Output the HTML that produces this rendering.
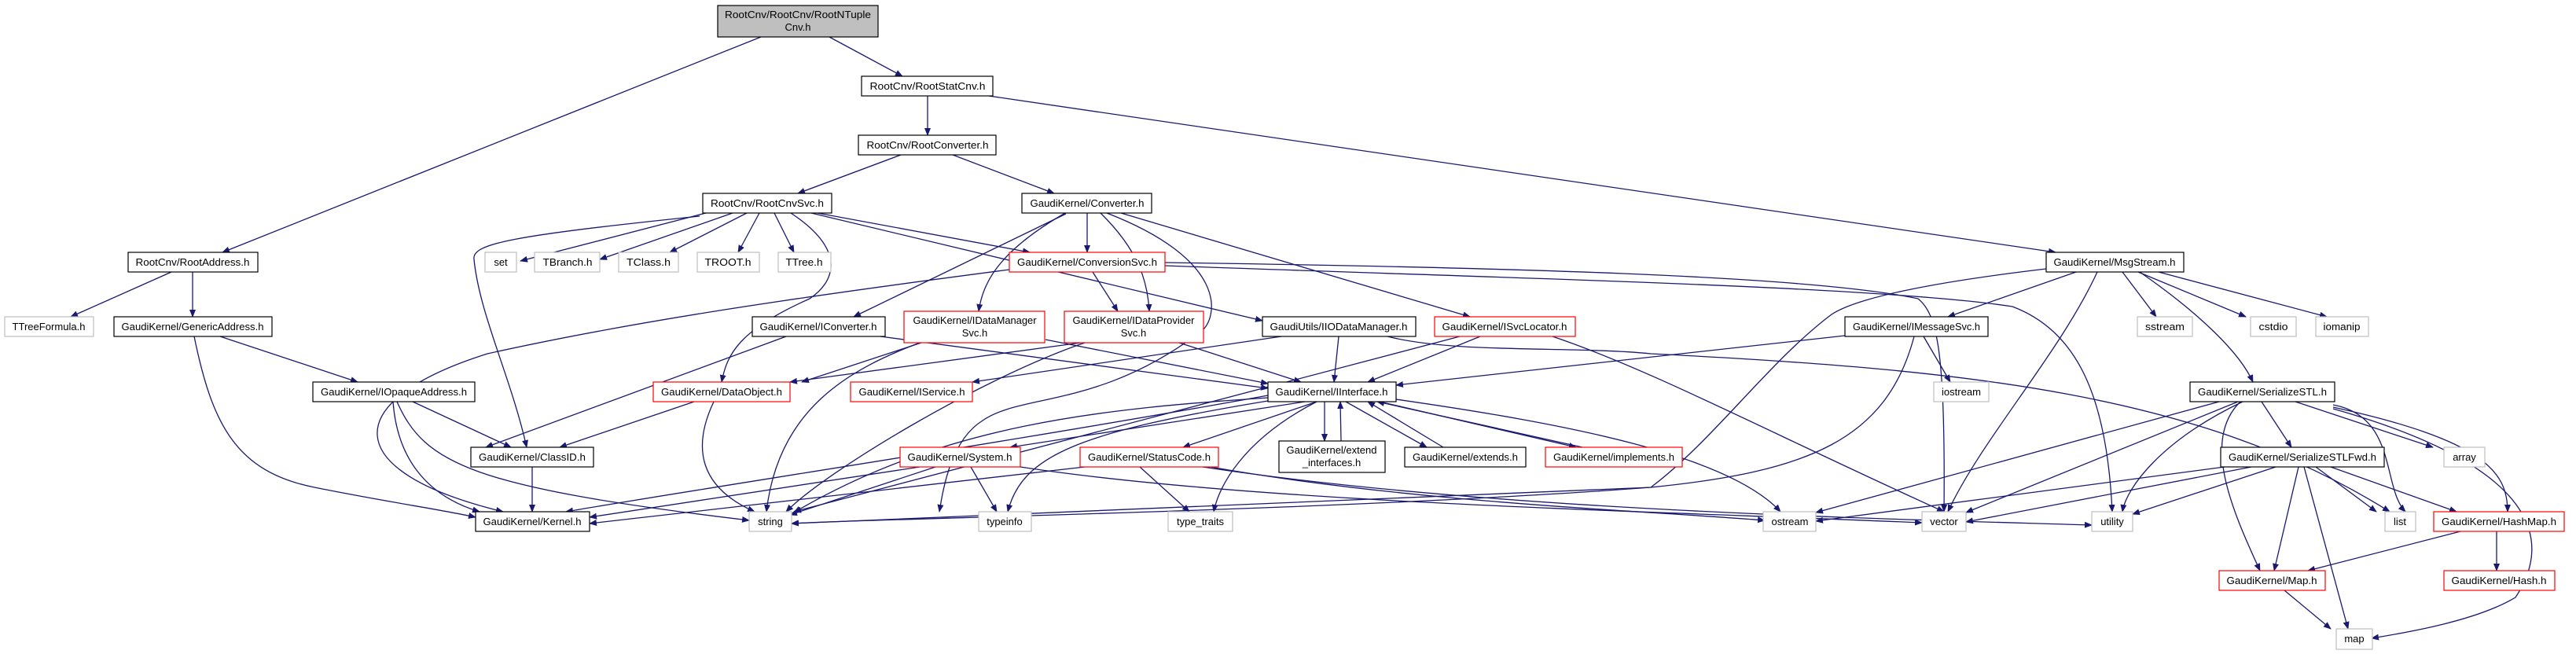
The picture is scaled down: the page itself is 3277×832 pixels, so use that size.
<!DOCTYPE html>
<html><head><meta charset="utf-8"><style>
html,body{margin:0;padding:0;background:#fff;width:3277px;height:832px;overflow:hidden}
svg{display:block}
text{font-family:"Liberation Sans",sans-serif;font-size:13px;fill:#000;text-anchor:middle}
.e{fill:none;stroke:#191970;stroke-width:1.3;marker-end:url(#a)}
.b{fill:#fff;stroke:#000;stroke-width:1.2}
.r{fill:#fff;stroke:#ff0000;stroke-width:1.2}
.g{fill:#fff;stroke:#bfbfbf;stroke-width:1.2}
</style></head><body>
<svg width="3277" height="832" viewBox="0 0 3277 832" xmlns="http://www.w3.org/2000/svg">
<defs><marker id="a" markerWidth="10" markerHeight="8" refX="9" refY="4" orient="auto" markerUnits="userSpaceOnUse"><path d="M0,0 L10,4 L0,8 z" fill="#191970"/></marker></defs>
<g>
<path class="e" d="M968,47 L283,321"/>
<path class="e" d="M1055,47 L1148,97"/>
<path class="e" d="M1180,122 L1180,172"/>
<path class="e" d="M1258,122 L2615,321"/>
<path class="e" d="M1146,197 L1015,246"/>
<path class="e" d="M1212,197 L1341,246"/>
<path class="e" d="M898,271 L662,332"/>
<path class="e" d="M932,271 L763,330"/>
<path class="e" d="M950,271 L852,321"/>
<path class="e" d="M966,271 L939,321"/>
<path class="e" d="M985,271 L1010,321"/>
<path class="e" d="M1040,271 L1310,321"/>
<path class="e" d="M1032,271 L1606,408"/>
<path class="e" d="M890,275 C650,300 600,310 603,330 C610,400 650,480 670,569"/>
<path class="e" d="M1006,271 C1080,320 1060,360 1030,380 C940,420 925,450 918,486"/>
<path class="e" d="M218,346 L90,403"/>
<path class="e" d="M245,346 L245,403"/>
<path class="e" d="M280,428 L455,486"/>
<path class="e" d="M247,428 C270,540 300,600 400,620 C500,640 560,648 605,658"/>
<path class="e" d="M525,511 L650,569"/>
<path class="e" d="M500,511 C505,580 540,630 610,651"/>
<path class="e" d="M505,511 C540,590 600,620 953,662"/>
<path class="e" d="M677,594 L677,651"/>
<path class="e" d="M883,511 L712,569"/>
<path class="e" d="M908,511 C880,570 890,620 960,651"/>
<path class="e" d="M1383,271 L1383,321"/>
<path class="e" d="M1355,271 C1270,320 1250,360 1245,396"/>
<path class="e" d="M1400,271 C1450,320 1460,360 1462,396"/>
<path class="e" d="M1408,271 C1560,330 1550,400 1530,420 C1400,520 1300,500 1250,535 C1210,560 1200,620 1195,651"/>
<path class="e" d="M1426,271 L1870,403"/>
<path class="e" d="M1356,272 L1086,403"/>
<path class="e" d="M1390,346 L1422,396"/>
<path class="e" d="M1284,343 C1000,380 800,410 620,450 C430,510 430,600 640,651"/>
<path class="e" d="M1482,334 C1900,340 2300,350 2440,380 C2465,400 2475,450 2473,651"/>
<path class="e" d="M1482,338 C1950,355 2400,365 2560,390 C2640,420 2680,500 2687,651"/>
<path class="e" d="M1000,428 L618,569"/>
<path class="e" d="M1120,428 L1613,494"/>
<path class="e" d="M1172,436 L1020,486"/>
<path class="e" d="M1330,432 L1613,488"/>
<path class="e" d="M1170,436 C1080,470 990,520 975,651"/>
<path class="e" d="M1375,436 L1005,486"/>
<path class="e" d="M1500,436 L1655,486"/>
<path class="e" d="M1380,436 C1250,480 1050,600 1000,651"/>
<path class="e" d="M1703,428 L1697,486"/>
<path class="e" d="M1630,428 L1237,486"/>
<path class="e" d="M1765,428 C1850,450 2000,440 2100,450 C2500,470 2800,500 3040,651"/>
<path class="e" d="M1883,428 L1740,486"/>
<path class="e" d="M1857,428 L1010,651"/>
<path class="e" d="M1975,428 C2100,470 2250,550 2473,651"/>
<path class="e" d="M2641,346 L2478,403"/>
<path class="e" d="M2700,346 L2743,403"/>
<path class="e" d="M2720,346 L2857,403"/>
<path class="e" d="M2746,346 L2960,403"/>
<path class="e" d="M2722,346 C2800,400 2850,450 2866,486"/>
<path class="e" d="M2668,346 C2620,450 2520,560 2478,651"/>
<path class="e" d="M2603,342 C2450,360 2360,380 2330,400 C2250,460 2180,560 2100,620 C1700,650 1100,660 1007,666"/>
<path class="e" d="M2347,427 L1776,490"/>
<path class="e" d="M2447,428 L2481,486"/>
<path class="e" d="M2435,428 C2400,560 2300,600 2100,620 C1600,640 1100,660 1007,666"/>
<path class="e" d="M1660,511 L1285,569"/>
<path class="e" d="M1675,511 L1505,569"/>
<path class="e" d="M1685,511 L1685,561"/>
<path class="e" d="M1706,561 L1705,511"/>
<path class="e" d="M1712,511 L1815,569"/>
<path class="e" d="M1836,569 L1740,511"/>
<path class="e" d="M1755,511 L2005,569"/>
<path class="e" d="M2013,569 L1752,511"/>
<path class="e" d="M1675,511 C1580,560 1550,620 1544,651"/>
<path class="e" d="M1613,510 C1370,550 1300,580 1282,651"/>
<path class="e" d="M1613,503 C1300,560 900,620 720,651"/>
<path class="e" d="M1776,508 C2000,540 2200,580 2265,651"/>
<path class="e" d="M1613,506 C1400,520 1200,540 1010,652"/>
<path class="e" d="M1235,594 L1268,651"/>
<path class="e" d="M1190,594 L1005,655"/>
<path class="e" d="M1170,594 L750,658"/>
<path class="e" d="M1298,594 C1600,640 2100,650 2445,665"/>
<path class="e" d="M1450,594 L1513,651"/>
<path class="e" d="M1380,594 L750,666"/>
<path class="e" d="M1540,594 C1800,640 2100,650 2245,662"/>
<path class="e" d="M1530,594 C1900,650 2400,660 2661,668"/>
<path class="e" d="M2877,511 L2915,569"/>
<path class="e" d="M2920,511 L3095,569"/>
<path class="e" d="M2968,515 C3050,530 3030,620 3060,651"/>
<path class="e" d="M2968,518 C3160,560 3190,600 3190,651"/>
<path class="e" d="M2850,511 C2800,560 2840,650 2875,726"/>
<path class="e" d="M2968,520 C3250,600 3240,700 3200,760 C3150,790 3060,805 3017,812"/>
<path class="e" d="M2823,511 L2310,652"/>
<path class="e" d="M2847,511 L2501,652"/>
<path class="e" d="M2853,511 C2750,560 2705,620 2700,651"/>
<path class="e" d="M2830,594 L2310,663"/>
<path class="e" d="M2864,594 L2501,664"/>
<path class="e" d="M2895,594 L2713,654"/>
<path class="e" d="M2946,594 L3023,651"/>
<path class="e" d="M2965,594 L3125,651"/>
<path class="e" d="M2924,594 L2893,726"/>
<path class="e" d="M2931,594 L2987,800"/>
<path class="e" d="M3130,676 L2936,726"/>
<path class="e" d="M3176,676 L3176,726"/>
<path class="e" d="M2906,751 L2965,800"/>
</g>
<g>
<rect x="913" y="7" width="204" height="40" fill="#bfbfbf" stroke="#000" stroke-width="1.2"/>
<text x="1015" y="23" textLength="186" lengthAdjust="spacingAndGlyphs">RootCnv/RootCnv/RootNTuple</text>
<text x="1015" y="39">Cnv.h</text>
<rect class="b" x="1096" y="97" width="167" height="25"/><text x="1180" y="114" textLength="147" lengthAdjust="spacingAndGlyphs">RootCnv/RootStatCnv.h</text>
<rect class="b" x="1092" y="172" width="175" height="25"/><text x="1180" y="189" textLength="155" lengthAdjust="spacingAndGlyphs">RootCnv/RootConverter.h</text>
<rect class="b" x="1300" y="246" width="165" height="25"/><text x="1383" y="263" textLength="145" lengthAdjust="spacingAndGlyphs">GaudiKernel/Converter.h</text>
<rect class="b" x="894" y="246" width="164" height="25"/><text x="976" y="263" textLength="144" lengthAdjust="spacingAndGlyphs">RootCnv/RootCnvSvc.h</text>
<rect class="b" x="163" y="321" width="165" height="25"/><text x="245" y="338" textLength="145" lengthAdjust="spacingAndGlyphs">RootCnv/RootAddress.h</text>
<rect class="g" x="617" y="321" width="40" height="25"/><text x="637" y="338">set</text>
<rect class="g" x="680" y="321" width="83" height="25"/><text x="722" y="338" textLength="63" lengthAdjust="spacingAndGlyphs">TBranch.h</text>
<rect class="g" x="787" y="321" width="76" height="25"/><text x="825" y="338" textLength="56" lengthAdjust="spacingAndGlyphs">TClass.h</text>
<rect class="g" x="887" y="321" width="79" height="25"/><text x="926" y="338" textLength="59" lengthAdjust="spacingAndGlyphs">TROOT.h</text>
<rect class="g" x="990" y="321" width="67" height="25"/><text x="1023" y="338" textLength="47" lengthAdjust="spacingAndGlyphs">TTree.h</text>
<rect class="r" x="1284" y="321" width="198" height="25"/><text x="1383" y="338" textLength="178" lengthAdjust="spacingAndGlyphs">GaudiKernel/ConversionSvc.h</text>
<rect class="b" x="2603" y="321" width="175" height="25"/><text x="2690" y="338" textLength="155" lengthAdjust="spacingAndGlyphs">GaudiKernel/MsgStream.h</text>
<rect class="g" x="6" y="403" width="113" height="25"/><text x="62" y="420" textLength="93" lengthAdjust="spacingAndGlyphs">TTreeFormula.h</text>
<rect class="b" x="145" y="403" width="201" height="25"/><text x="245" y="420" textLength="181" lengthAdjust="spacingAndGlyphs">GaudiKernel/GenericAddress.h</text>
<rect class="b" x="957" y="403" width="169" height="25"/><text x="1041" y="420" textLength="149" lengthAdjust="spacingAndGlyphs">GaudiKernel/IConverter.h</text>
<rect class="r" x="1150" y="396" width="179" height="40"/><text x="1240" y="412" textLength="157" lengthAdjust="spacingAndGlyphs">GaudiKernel/IDataManager</text><text x="1240" y="428">Svc.h</text>
<rect class="r" x="1354" y="396" width="177" height="40"/><text x="1442" y="412" textLength="155" lengthAdjust="spacingAndGlyphs">GaudiKernel/IDataProvider</text><text x="1442" y="428">Svc.h</text>
<rect class="b" x="1606" y="403" width="195" height="25"/><text x="1703" y="420" textLength="175" lengthAdjust="spacingAndGlyphs">GaudiUtils/IIODataManager.h</text>
<rect class="r" x="1825" y="403" width="179" height="25"/><text x="1914" y="420" textLength="159" lengthAdjust="spacingAndGlyphs">GaudiKernel/ISvcLocator.h</text>
<rect class="b" x="2347" y="403" width="182" height="25"/><text x="2438" y="420" textLength="162" lengthAdjust="spacingAndGlyphs">GaudiKernel/IMessageSvc.h</text>
<rect class="g" x="2719" y="403" width="70" height="25"/><text x="2754" y="420" textLength="50" lengthAdjust="spacingAndGlyphs">sstream</text>
<rect class="g" x="2863" y="403" width="58" height="25"/><text x="2892" y="420" textLength="37" lengthAdjust="spacingAndGlyphs">cstdio</text>
<rect class="g" x="2946" y="403" width="67" height="25"/><text x="2979" y="420" textLength="47" lengthAdjust="spacingAndGlyphs">iomanip</text>
<rect class="b" x="398" y="486" width="206" height="25"/><text x="501" y="503" textLength="186" lengthAdjust="spacingAndGlyphs">GaudiKernel/IOpaqueAddress.h</text>
<rect class="r" x="831" y="486" width="174" height="25"/><text x="918" y="503" textLength="154" lengthAdjust="spacingAndGlyphs">GaudiKernel/DataObject.h</text>
<rect class="r" x="1082" y="486" width="155" height="25"/><text x="1160" y="503" textLength="135" lengthAdjust="spacingAndGlyphs">GaudiKernel/IService.h</text>
<rect class="b" x="1613" y="486" width="163" height="25"/><text x="1694" y="503" textLength="143" lengthAdjust="spacingAndGlyphs">GaudiKernel/IInterface.h</text>
<rect class="g" x="2460" y="486" width="70" height="25"/><text x="2495" y="503" textLength="50" lengthAdjust="spacingAndGlyphs">iostream</text>
<rect class="b" x="2786" y="486" width="184" height="25"/><text x="2878" y="503" textLength="164" lengthAdjust="spacingAndGlyphs">GaudiKernel/SerializeSTL.h</text>
<rect class="b" x="599" y="569" width="156" height="25"/><text x="677" y="586" textLength="136" lengthAdjust="spacingAndGlyphs">GaudiKernel/ClassID.h</text>
<rect class="r" x="1145" y="569" width="153" height="25"/><text x="1221" y="586" textLength="133" lengthAdjust="spacingAndGlyphs">GaudiKernel/System.h</text>
<rect class="r" x="1374" y="569" width="176" height="25"/><text x="1462" y="586" textLength="156" lengthAdjust="spacingAndGlyphs">GaudiKernel/StatusCode.h</text>
<rect class="b" x="1627" y="561" width="135" height="40"/><text x="1694" y="577" textLength="115" lengthAdjust="spacingAndGlyphs">GaudiKernel/extend</text><text x="1694" y="593">_interfaces.h</text>
<rect class="b" x="1787" y="569" width="154" height="25"/><text x="1864" y="586" textLength="134" lengthAdjust="spacingAndGlyphs">GaudiKernel/extends.h</text>
<rect class="r" x="1966" y="569" width="174" height="25"/><text x="2053" y="586" textLength="154" lengthAdjust="spacingAndGlyphs">GaudiKernel/implements.h</text>
<rect class="b" x="2825" y="569" width="208" height="25"/><text x="2929" y="586" textLength="188" lengthAdjust="spacingAndGlyphs">GaudiKernel/SerializeSTLFwd.h</text>
<rect class="g" x="3109" y="569" width="52" height="25"/><text x="3135" y="586">array</text>
<rect class="b" x="605" y="651" width="145" height="25"/><text x="677" y="668" textLength="125" lengthAdjust="spacingAndGlyphs">GaudiKernel/Kernel.h</text>
<rect class="g" x="953" y="651" width="54" height="25"/><text x="980" y="668">string</text>
<rect class="g" x="1245" y="651" width="67" height="25"/><text x="1278" y="668">typeinfo</text>
<rect class="g" x="1486" y="651" width="82" height="25"/><text x="1527" y="668">type_traits</text>
<rect class="g" x="2243" y="651" width="67" height="25"/><text x="2277" y="668">ostream</text>
<rect class="g" x="2445" y="651" width="56" height="25"/><text x="2473" y="668">vector</text>
<rect class="g" x="2661" y="651" width="52" height="25"/><text x="2687" y="668">utility</text>
<rect class="g" x="3034" y="651" width="39" height="25"/><text x="3053" y="668">list</text>
<rect class="r" x="3096" y="651" width="166" height="25"/><text x="3179" y="668" textLength="146" lengthAdjust="spacingAndGlyphs">GaudiKernel/HashMap.h</text>
<rect class="r" x="2823" y="726" width="135" height="25"/><text x="2890" y="743" textLength="115" lengthAdjust="spacingAndGlyphs">GaudiKernel/Map.h</text>
<rect class="r" x="3109" y="726" width="141" height="25"/><text x="3179" y="743" textLength="121" lengthAdjust="spacingAndGlyphs">GaudiKernel/Hash.h</text>
<rect class="g" x="2972" y="800" width="46" height="26"/><text x="2995" y="817">map</text>
</g>
</svg>
</body></html>
